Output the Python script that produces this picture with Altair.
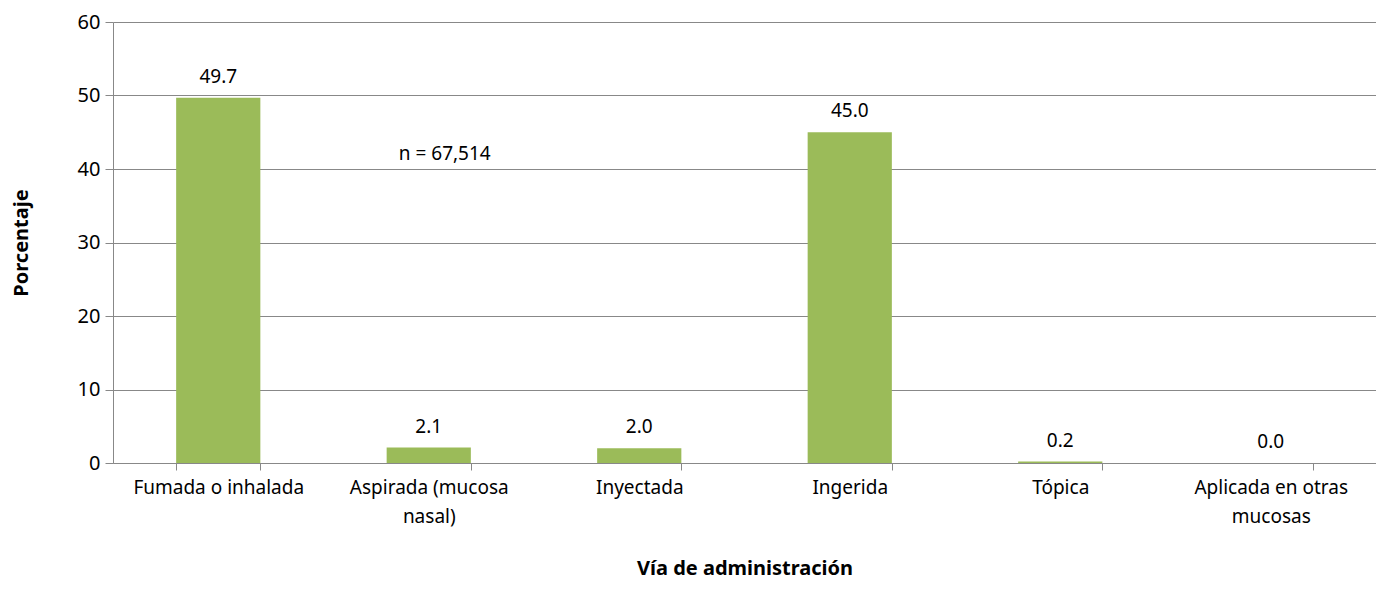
import altair as alt
import pandas as pd

categories = ["Fumada o inhalada", "Aspirada (mucosa nasal)", "Inyectada", "Ingerida", "Tópica", "Aplicada en otras mucosas"]
values = [49.7, 2.1, 2.0, 45.0, 0.2, 0.0]
note_text = ["n = 67,514"]
note_cat = ["Aspirada (mucosa nasal)"]
note_y = [42]

df = pd.DataFrame({"cat": categories, "val": values})
df["lbl"] = [f"{v:.1f}" for v in values]
note = pd.DataFrame({"cat": note_cat, "val": note_y, "t": note_text})

FONT = "Noto Sans"
label_expr = "datum.label == 'Aspirada (mucosa nasal)' ? ['Aspirada (mucosa', 'nasal)'] : datum.label == 'Aplicada en otras mucosas' ? ['Aplicada en otras', 'mucosas'] : datum.label"

x = alt.X("cat:N", sort=categories,
          scale=alt.Scale(paddingInner=0.6, paddingOuter=0.3),
          axis=alt.Axis(title="Vía de administración", labelAngle=0, labelExpr=label_expr,
                        tickBand="extent", tickSize=7, tickColor="#888888", domainColor="#888888",
                        labelFontSize=19, labelFont=FONT, labelColor="#000000", labelPadding=8,
                        labelLineHeight=29, labelLimit=300,
                        titleFontSize=20, titleFont=FONT, titleFontWeight="bold", titleColor="#000000",
                        titlePadding=32))
y = alt.Y("val:Q", scale=alt.Scale(domain=[0, 60]),
          axis=alt.Axis(title="Porcentaje", values=[0, 10, 20, 30, 40, 50, 60], tickSize=8,
                        tickColor="#888888", domainColor="#888888", gridColor="#888888",
                        labelFontSize=20, labelFont=FONT, labelColor="#000000", labelPadding=5,
                        titleFontSize=20, titleFont=FONT, titleFontWeight="bold", titleColor="#000000",
                        titlePadding=46))

bars = alt.Chart(df).mark_bar(color="#9BBB59").encode(x=x, y=y)
texts = alt.Chart(df).mark_text(baseline="bottom", dy=-11, fontSize=19, font=FONT, color="#000000").encode(
    x=alt.X("cat:N", sort=categories), y="val:Q", text="lbl:N")
notes = alt.Chart(note).mark_text(baseline="middle", dx=16, fontSize=19, font=FONT, color="#000000").encode(
    x=alt.X("cat:N", sort=categories), y="val:Q", text="t:N")

chart = alt.layer(bars, texts, notes).properties(
    width=1263, height=441,
    autosize=alt.AutoSizeParams(type="none"),
    padding={"left": 105, "top": 14, "right": 0, "bottom": 119},
).configure_view(stroke=None).configure_axis(grid=False).configure_axisY(grid=True)

chart.save("out.html", embed_options={"renderer": "svg", "actions": False})
